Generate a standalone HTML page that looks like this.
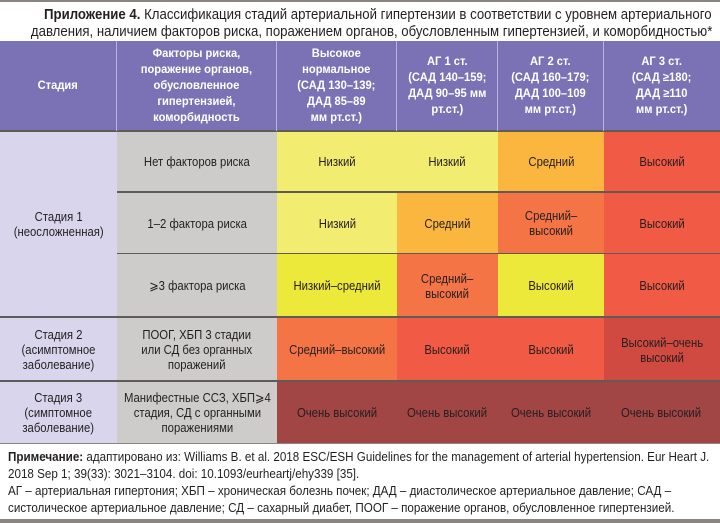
<!DOCTYPE html>
<html><head><meta charset="utf-8">
<style>
*{margin:0;padding:0;box-sizing:border-box}
body{width:720px;height:523px;background:#fff;position:relative;overflow:hidden;font-family:"Liberation Sans",sans-serif;color:#231f20}
.c{position:absolute;display:flex;align-items:center;justify-content:center;text-align:center;font-size:13px;line-height:15px}
.c>span.s,.c span.s{display:inline-block;white-space:nowrap;transform:scaleX(0.87)}
.h{background:#7b72b5;color:#fff;font-weight:bold;font-size:11.5px;line-height:16px}
.h span.s{transform:scaleX(0.97)}
.t{position:absolute;right:8px;font-size:15px;white-space:nowrap;transform:scaleX(0.88);transform-origin:right center}
.ln{position:absolute;background:#5e5b59}
.n{position:absolute;left:8px;font-size:13px;line-height:17px;white-space:nowrap;transform:scaleX(0.895);transform-origin:left center}
</style></head><body>
<div style="position:absolute;left:0;top:0;width:720px;height:2px;background:#8a8580"></div>
<div class="t" style="top:6px"><b>Приложение 4.</b> Классификация стадий артериальной гипертензии в соответствии с уровнем артериального</div>
<div class="t" style="top:23px">давления, наличием факторов риска, поражением органов, обусловленным гипертензией, и коморбидностью*</div>

<div class="c h" style="left:0;top:41px;width:116px;height:90px"><span class="s">Стадия</span></div>
<div class="c h" style="left:117px;top:41px;width:159px;height:90px"><span class="s">Факторы риска,<br>поражение органов,<br>обусловленное<br>гипертензией,<br>коморбидность</span></div>
<div class="c h" style="left:277px;top:41px;width:119px;height:90px"><span class="s">Высокое<br>нормальное<br>(САД 130–139;<br>ДАД 85–89<br>мм рт.ст.)</span></div>
<div class="c h" style="left:397px;top:41px;width:100px;height:90px"><span class="s">АГ 1 ст.<br>(САД 140–159;<br>ДАД 90–95 мм<br>рт.ст.)</span></div>
<div class="c h" style="left:498px;top:41px;width:105px;height:90px"><span class="s">АГ 2 ст.<br>(САД 160–179;<br>ДАД 100–109<br>мм рт.ст.)</span></div>
<div class="c h" style="left:604px;top:41px;width:116px;height:90px"><span class="s">АГ 3 ст.<br>(САД ≥180;<br>ДАД ≥110<br>мм рт.ст.)</span></div>

<div class="c" style="left:0;top:131px;width:117px;height:186px;background:#d9d5ec"><span class="s">Стадия 1<br>(неосложненная)</span></div>
<div class="c" style="left:117px;top:131px;width:160px;height:186px;background:#cdcccb"></div>
<div class="c" style="left:117px;top:131px;width:160px;height:60px"><span class="s">Нет факторов риска</span></div>
<div class="c" style="left:117px;top:193px;width:160px;height:60px"><span class="s">1–2 фактора риска</span></div>
<div class="c" style="left:117px;top:253px;width:160px;height:64px"><span class="s">⩾3 фактора риска</span></div>

<div class="c" style="left:277px;top:131px;width:221px;height:60px;background:#f2ec70"><span style="position:absolute;left:60px;transform:translateX(-50%)"><span class="s">Низкий</span></span><span style="position:absolute;left:170px;transform:translateX(-50%)"><span class="s">Низкий</span></span></div>
<div class="c" style="left:498px;top:131px;width:106px;height:60px;background:#fbb63f"><span class="s">Средний</span></div>
<div class="c" style="left:604px;top:131px;width:116px;height:60px;background:#f15a45"><span class="s">Высокий</span></div>

<div class="c" style="left:277px;top:193px;width:120px;height:60px;background:#f2ec70"><span class="s">Низкий</span></div>
<div class="c" style="left:397px;top:193px;width:101px;height:60px;background:#fbb63f"><span class="s">Средний</span></div>
<div class="c" style="left:498px;top:193px;width:106px;height:60px;background:#f47446"><span class="s">Средний–<br>высокий</span></div>
<div class="c" style="left:604px;top:193px;width:116px;height:60px;background:#f15a45"><span class="s">Высокий</span></div>

<div class="c" style="left:277px;top:254px;width:120px;height:63px;background:#ece93a"><span class="s">Низкий–средний</span></div>
<div class="c" style="left:397px;top:254px;width:101px;height:63px;background:#f47446"><span class="s">Средний–<br>высокий</span></div>
<div class="c" style="left:498px;top:254px;width:106px;height:63px;background:#ece93a"><span class="s">Высокий</span></div>
<div class="c" style="left:604px;top:254px;width:116px;height:63px;background:#f15a45"><span class="s">Высокий</span></div>

<div class="c" style="left:0;top:318px;width:117px;height:63px;background:#d9d5ec"><span class="s">Стадия 2<br>(асимптомное<br>заболевание)</span></div>
<div class="c" style="left:117px;top:318px;width:160px;height:63px;background:#cdcccb"><span class="s">ПООГ, ХБП 3 стадии<br>или СД без органных<br>поражений</span></div>
<div class="c" style="left:277px;top:318px;width:120px;height:63px;background:#f47446"><span class="s">Средний–высокий</span></div>
<div class="c" style="left:397px;top:318px;width:207px;height:63px;background:#f15a45"><span style="position:absolute;left:50px;transform:translateX(-50%)"><span class="s">Высокий</span></span><span style="position:absolute;left:154px;transform:translateX(-50%)"><span class="s">Высокий</span></span></div>
<div class="c" style="left:604px;top:318px;width:116px;height:63px;background:#d04a42"><span class="s">Высокий–очень<br>высокий</span></div>

<div class="c" style="left:0;top:382px;width:117px;height:61px;background:#d9d5ec"><span class="s">Стадия 3<br>(симптомное<br>заболевание)</span></div>
<div class="c" style="left:117px;top:382px;width:160px;height:61px;background:#cdcccb"><span class="s">Манифестные ССЗ, ХБП⩾4<br>стадия, СД с органными<br>поражениями</span></div>
<div class="c" style="left:277px;top:382px;width:443px;height:61px;background:#a14545">
<span style="position:absolute;left:60px;transform:translateX(-50%)"><span class="s">Очень высокий</span></span>
<span style="position:absolute;left:170px;transform:translateX(-50%)"><span class="s">Очень высокий</span></span>
<span style="position:absolute;left:274px;transform:translateX(-50%)"><span class="s">Очень высокий</span></span>
<span style="position:absolute;left:384px;transform:translateX(-50%)"><span class="s">Очень высокий</span></span></div>

<div class="ln" style="left:0;top:130px;width:720px;height:2px"></div>
<div class="ln" style="left:117px;top:191px;width:603px;height:2px"></div>
<div class="ln" style="left:117px;top:253px;width:603px;height:1px"></div>
<div class="ln" style="left:0;top:316px;width:720px;height:2px"></div>
<div class="ln" style="left:0;top:380px;width:720px;height:2px"></div>
<div class="ln" style="left:0;top:443px;width:720px;height:1px;background:#8a8580"></div>
<div style="position:absolute;left:116px;top:41px;width:1px;height:90px;background:#b8b2dc"></div>
<div style="position:absolute;left:276px;top:41px;width:1px;height:90px;background:#b8b2dc"></div>
<div style="position:absolute;left:396px;top:41px;width:1px;height:90px;background:#b8b2dc"></div>
<div style="position:absolute;left:497px;top:41px;width:1px;height:90px;background:#b8b2dc"></div>
<div style="position:absolute;left:603px;top:41px;width:1px;height:90px;background:#b8b2dc"></div>

<div class="n" style="top:448px"><b>Примечание:</b> адаптировано из: Williams B. et al. 2018 ESC/ESH Guidelines for the management of arterial hypertension. Eur Heart J.</div>
<div class="n" style="top:465px">2018 Sep 1; 39(33): 3021–3104. doi: 10.1093/eurheartj/ehy339 [35].</div>
<div class="n" style="top:482px">АГ – артериальная гипертония; ХБП – хроническая болезнь почек; ДАД – диастолическое артериальное давление; САД –</div>
<div class="n" style="top:499px">систолическое артериальное давление; СД – сахарный диабет, ПООГ – поражение органов, обусловленное гипертензией.</div>
<div style="position:absolute;left:0;top:519px;width:720px;height:4px;background:#8a8580"></div>
</body></html>
